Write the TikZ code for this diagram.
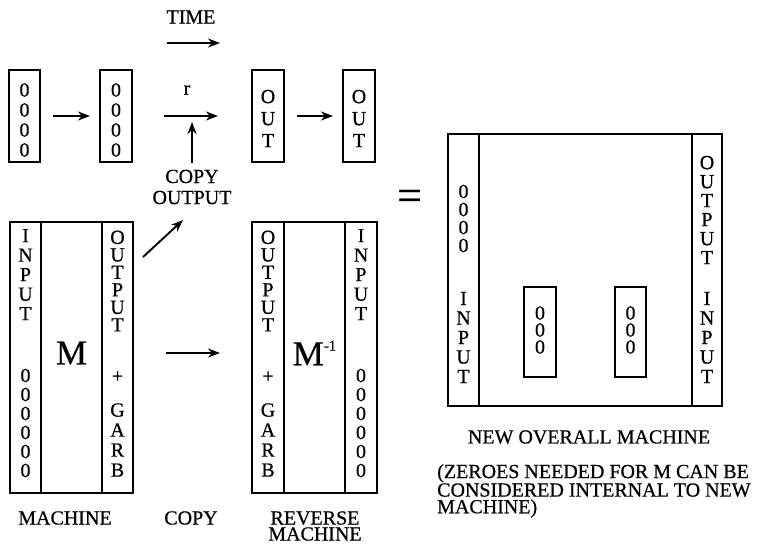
\documentclass[tikz,border=0pt]{standalone}
\usepackage{fontspec}
\setmainfont{Liberation Serif}[FakeBold=0.6]
\usetikzlibrary{arrows.meta}
\begin{document}
\begin{tikzpicture}[x=1pt,y=-1pt,
  box/.style={draw, line width=1.5pt, inner sep=0pt, outer sep=0pt},
  arr/.style={line width=1.9pt, -{Stealth[length=12pt,width=9pt]}},
  col/.style={align=center, inner sep=0pt, font=\fontsize{20}{#1}\selectfont},
  lbl/.style={align=center, inner sep=0pt, font=\fontsize{20}{#1}\selectfont},
]
\useasboundingbox (0,0) rectangle (759,557);

% ---------- top row ----------
\node[box, minimum width=31pt, minimum height=92pt] (b1) at (24.5,116) {};
\node[box, minimum width=32pt, minimum height=92pt] (b2) at (116,116) {};
\node[box, minimum width=32pt, minimum height=92pt] (b3) at (268,116) {};
\node[box, minimum width=32pt, minimum height=92pt] (b4) at (359,116) {};
\node[col=20] (t1) at (24.5,120) {0\\0\\0\\0};
\node[col=20] (t2) at (116,120) {0\\0\\0\\0};
\node[col=22] (t3) at (268,118.5) {O\\U\\T};
\node[col=22] (t4) at (359,118.5) {O\\U\\T};

\node[lbl=20] (time) at (191,17) {TIME};
\coordinate (ta) at (167,43);
\coordinate (tb) at (220,43);
\draw[arr] (ta) -- (tb);
\node[lbl=20] (r) at (187,90) {r};
\node[lbl=21] (copyout) at (192,187) {COPY\\OUTPUT};
\coordinate (cu) at (192,122);

\draw[arr, shorten <=13pt, shorten >=10pt] (b1.east) -- (b2.west);
\draw[arr, shorten <=32pt, shorten >=34pt] (b2.east) -- (b3.west);
\draw[arr, shorten <=13pt, shorten >=10pt] (b3.east) -- (b4.west);
\draw[arr, shorten <=7pt] (copyout.north) -- (cu);

% ---------- machine M ----------
\node[box, minimum width=31pt, minimum height=271pt] (Ml) at (25.5,357.5) {};
\node[box, minimum width=61pt, minimum height=271pt] (Mm) at (71.5,357.5) {};
\node[box, minimum width=31pt, minimum height=271pt] (Mr) at (117.5,357.5) {};
\node[col=19.5] (mli) at (25.5,274.6) {I\\N\\P\\U\\T};
\node[col=19] (mlz) at (25.5,423) {0\\0\\0\\0\\0\\0};
\node[col=17.5] (mro) at (117.5,281) {O\\U\\T\\P\\U\\T};
\node[col=20] (mrp) at (117.5,377) {+};
\node[col=20] (mrg) at (117.5,440) {G\\A\\R\\B};
\node[inner sep=0pt, font=\fontsize{35}{35}\selectfont] (Mtxt) at (71.5,353) {M};

% ---------- reverse machine ----------
\node[box, minimum width=32pt, minimum height=271pt] (Rl) at (268,357.5) {};
\node[box, minimum width=61pt, minimum height=271pt] (Rm) at (314.5,357.5) {};
\node[box, minimum width=32pt, minimum height=271pt] (Rr) at (361,357.5) {};
\node[col=17.5] (rlo) at (268,281) {O\\U\\T\\P\\U\\T};
\node[col=20] (rlp) at (268,377) {+};
\node[col=20] (rlg) at (268,440) {G\\A\\R\\B};
\node[col=19.5] (rri) at (361,274.6) {I\\N\\P\\U\\T};
\node[col=19] (rrz) at (361,423) {0\\0\\0\\0\\0\\0};
\node[inner sep=0pt, font=\fontsize{35}{35}\selectfont] (Rtxt) at (314.5,353)
  {M\raisebox{0.42em}{\fontsize{15}{15}\selectfont -1}};

% ---------- arrows between machines ----------
\draw[arr, shorten <=33pt, shorten >=32pt] ([yshift=4.5pt]Mr.east) -- ([yshift=4.5pt]Rl.west);
\coordinate (d0) at (143,257);
\coordinate (d1) at (183,220);
\draw[arr] (d0) -- (d1);

% ---------- bottom labels ----------
\node[lbl=20] (lm) at (65,518) {MACHINE};
\node[lbl=20] (lc) at (191,518) {COPY};
\node[lbl=16] (lr) at (315,526) {REVERSE\\MACHINE};

% ---------- equals ----------
\node[inner sep=0pt, anchor=base, font=\fontsize{44}{44}\selectfont] (eq) at (409.5,210) {=};

% ---------- new overall machine ----------
\node[box, minimum width=31pt, minimum height=272pt] (Nl) at (463.5,270) {};
\node[box, minimum width=213pt, minimum height=272pt] (Nm) at (585.5,270) {};
\node[box, minimum width=30pt, minimum height=272pt] (Nr) at (707,270) {};
\node[col=18] (nlz) at (463.5,218.5) {0\\0\\0\\0};
\node[col=19.5] (nli) at (463.5,337.5) {I\\N\\P\\U\\T};
\node[col=19] (nro) at (707,210) {O\\U\\T\\P\\U\\T};
\node[col=19.5] (nri) at (707,337.5) {I\\N\\P\\U\\T};
\node[box, minimum width=32pt, minimum height=90pt] (z1) at (540,332) {};
\node[box, minimum width=31pt, minimum height=90pt] (z2) at (630.5,332) {};
\node[col=17] (z1t) at (540,330) {0\\0\\0};
\node[col=17] (z2t) at (630.5,330) {0\\0\\0};

\node[lbl=20] (ln) at (589,437) {NEW OVERALL MACHINE};
\node[inner sep=0pt, anchor=north west, align=left, font=\fontsize{20}{16.7}\selectfont] (note) at (437,464)
  {(ZEROES NEEDED FOR M CAN BE\\CONSIDERED INTERNAL TO NEW\\MACHINE)};
\end{tikzpicture}
\end{document}
